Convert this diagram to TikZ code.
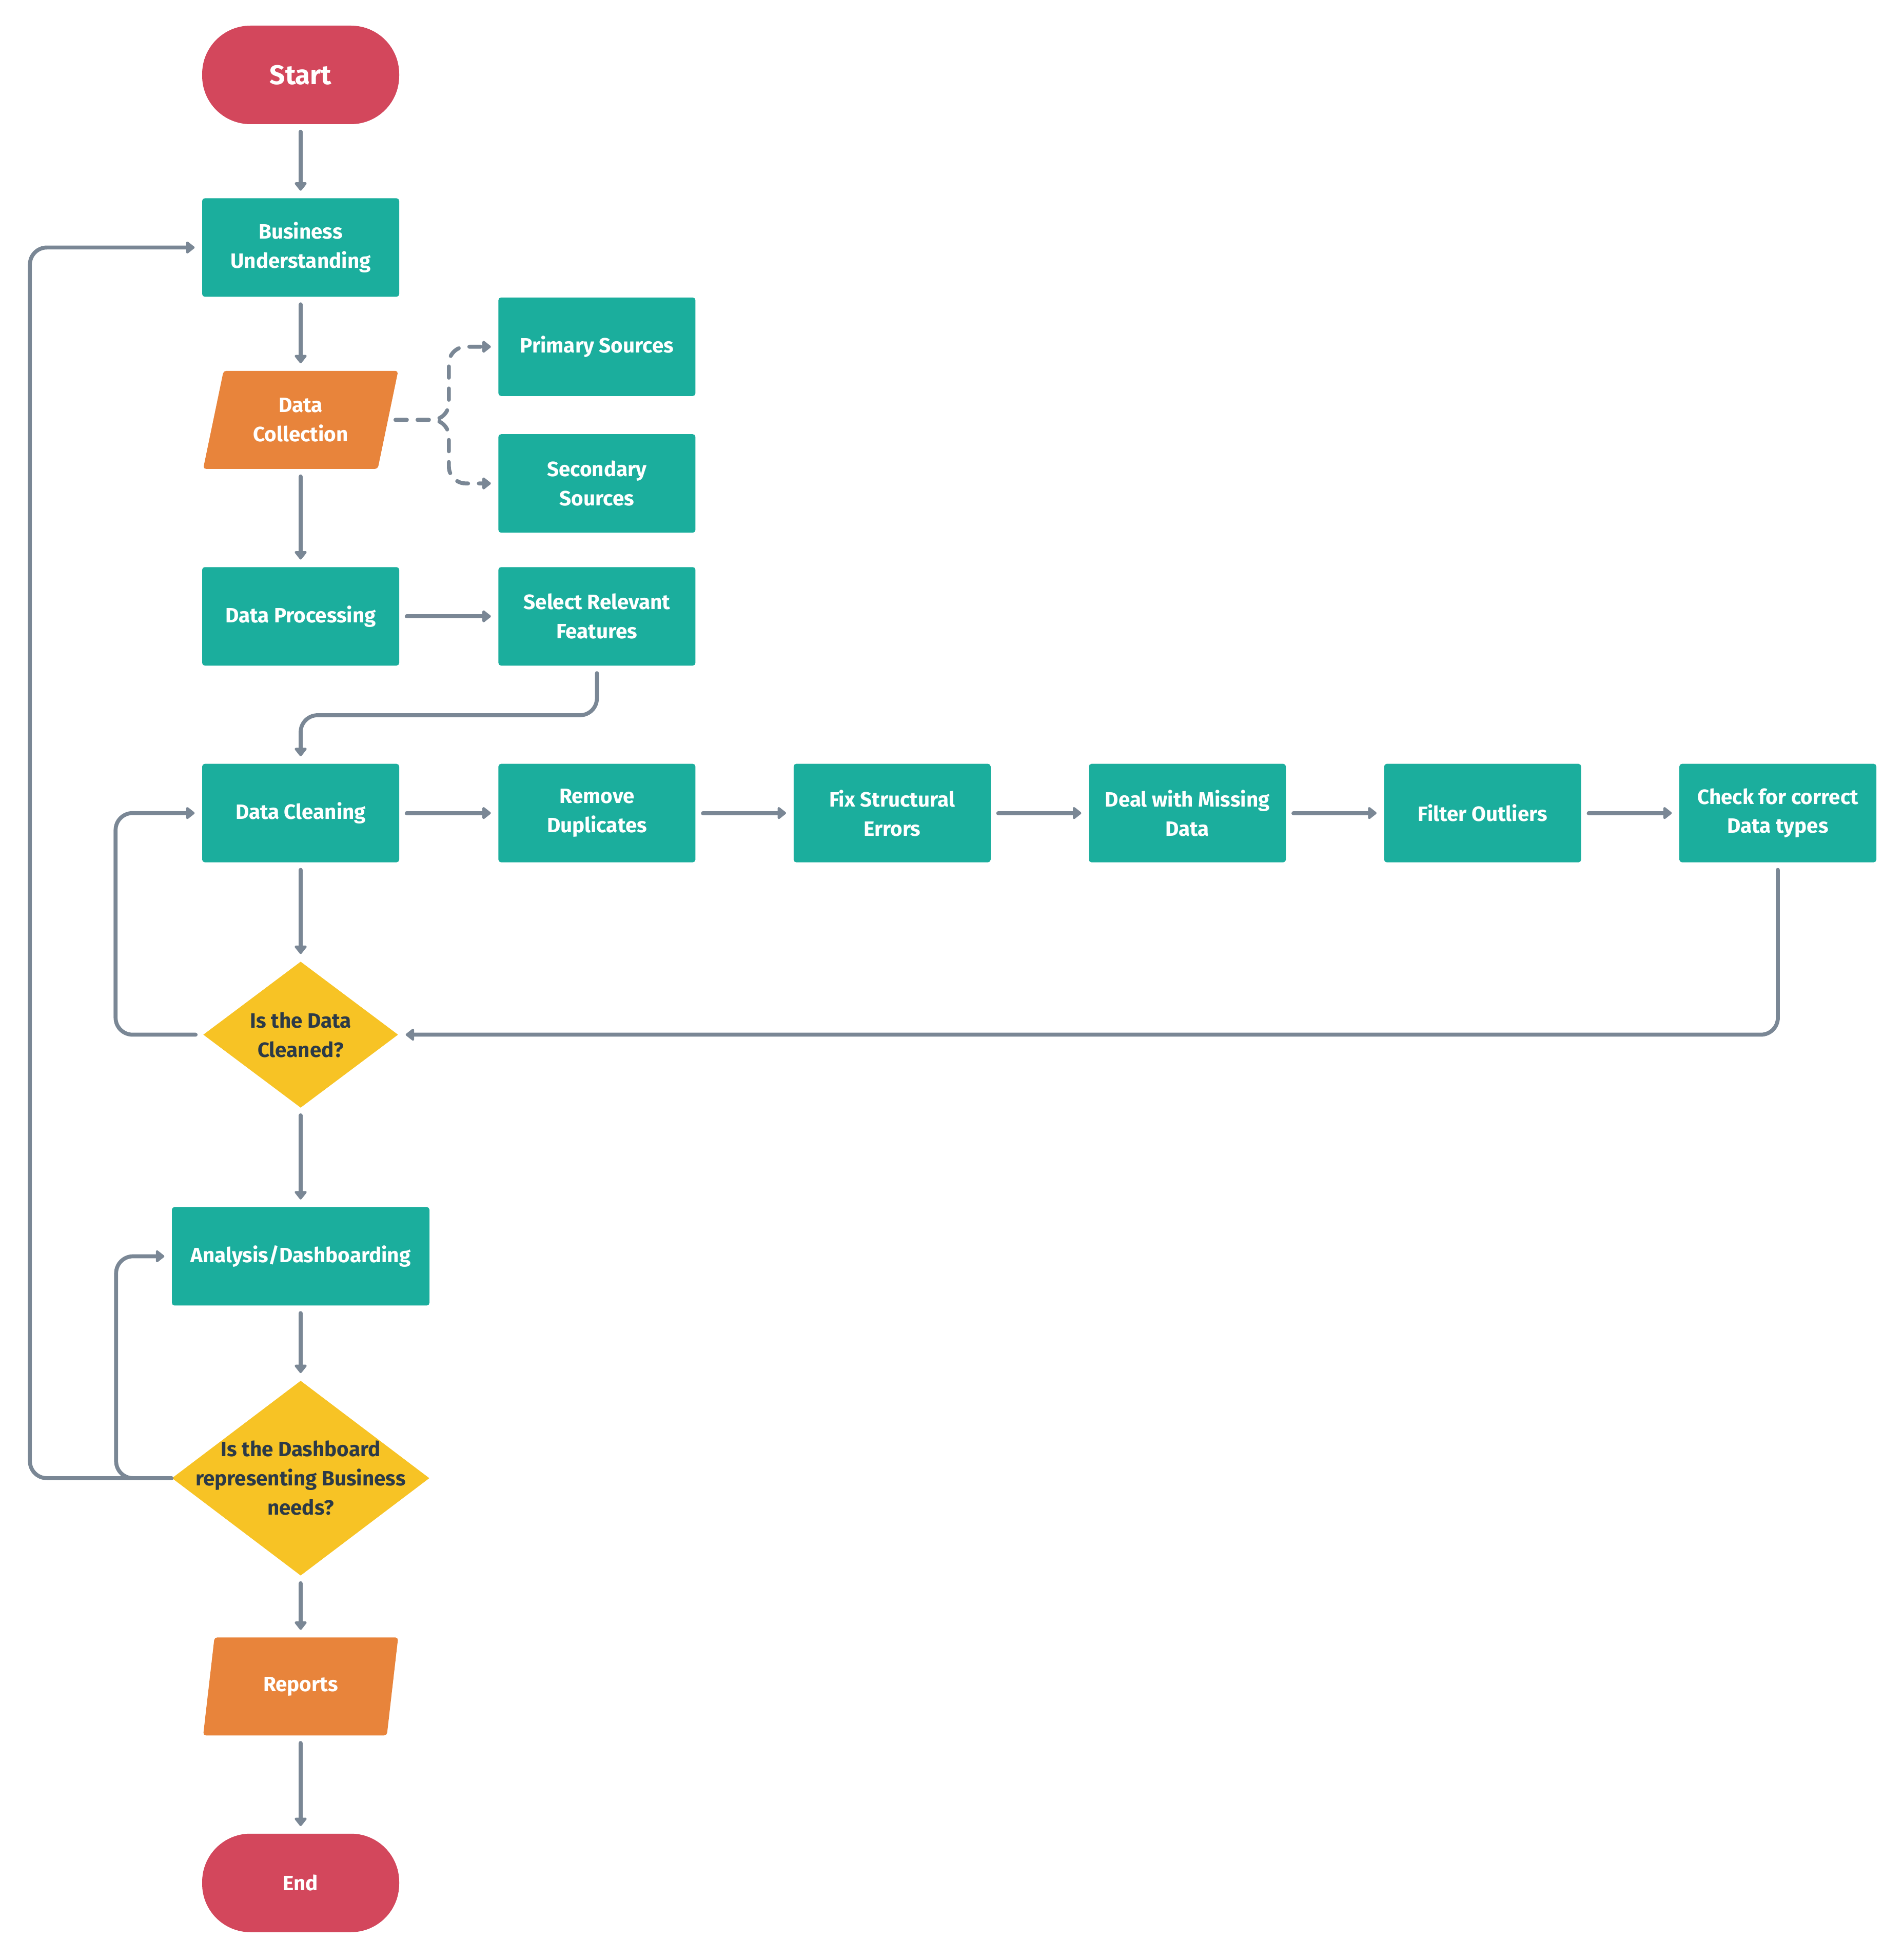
\documentclass[tikz,border=0pt]{standalone}
\usepackage{fontspec}
\setmainfont{Fira Sans}
\usetikzlibrary{shapes.geometric, arrows.meta, positioning}

\definecolor{startred}{HTML}{D3475C}
\definecolor{boxteal}{HTML}{1BAE9D}
\definecolor{iorange}{HTML}{E8843B}
\definecolor{decyellow}{HTML}{F7C325}
\definecolor{linegray}{HTML}{7A8795}
\definecolor{darktext}{HTML}{2C3A47}

\newcommand{\boxfont}{\fontsize{11.5pt}{16.2pt}\selectfont\bfseries}

\tikzstyle{startstop} = [rectangle, rounded corners=0.94cm, minimum width=3.84cm, minimum height=1.92cm, text centered, fill=startred, text=white, font=\boxfont]
\tikzstyle{process} = [rectangle, rounded corners=1.5pt, minimum width=3.84cm, minimum height=1.92cm, align=center, fill=boxteal, text=white, font=\boxfont]
\tikzstyle{io} = [trapezium, trapezium left angle=70, trapezium right angle=110, trapezium stretches body, minimum width=3.8cm, minimum height=1.91cm, align=center, fill=iorange, text=white, font=\boxfont, rounded corners=1.5pt]
\tikzstyle{decision} = [diamond, minimum width=3.8cm, minimum height=2.85cm, inner xsep=-2cm, inner ysep=-1cm, align=center, fill=decyellow, text=darktext, font=\boxfont]
\tikzstyle{arrow} = [line width=0.077cm, draw=linegray, line cap=round, -{Triangle[length=0.18cm, width=0.27cm, round]}, shorten <=0.14cm, shorten >=0.14cm]
\tikzstyle{dasharrow} = [arrow, dash pattern=on 0.22cm off 0.21cm]

\begin{document}
\begin{tikzpicture}[node distance = 1.9cm]

\useasboundingbox (0,0) rectangle (37.08,-38.20);

\node (start) [startstop, font=\fontsize{15pt}{18pt}\selectfont\bfseries] at (5.86,-1.46) {Start};
\node (bu) [process, below=1.43cm of start] {Business\\Understanding};
\node (dc) [io, below=1.43cm of bu] {Data\\Collection};
\node (primary) [process, below right=0cm and 1.92cm of bu] {Primary Sources};
\node (secondary) [process, below=0.73cm of primary] {Secondary\\Sources};
\node (dp) [process, below=1.9cm of dc] {Data Processing};
\node (select) [process, right=1.92cm of dp] {Select Relevant\\Features};

\node (dclean) [process, below=1.9cm of dp] {Data Cleaning};
\node (dup) [process, right=1.92cm of dclean] {Remove\\Duplicates};
\node (fix) [process, right=of dup] {Fix Structural\\Errors};
\node (missing) [process, right=of fix] {Deal with Missing\\Data};
\node (outliers) [process, right=of missing] {Filter Outliers};
\node (check) [process, right=of outliers] {Check for correct\\Data types};

\node (clean) [decision, below=1.92cm of dclean] {Is the Data\\Cleaned?};
\node (analysis) [process, minimum width=5.02cm, below=1.92cm of clean] {Analysis/Dashboarding};
\node (dash) [decision, minimum width=5.02cm, minimum height=3.8cm, below=1.45cm of analysis] {Is the Dashboard\\representing Business\\needs?};
\node (reports) [io, below=1.19cm of dash] {Reports};
\node (stop) [startstop, below=1.9cm of reports] {End};

\draw [arrow] (start) -- (bu);
\draw [arrow] (bu) -- (dc);
\draw [dasharrow, rounded corners=0.33cm] (dc.east) -- ++(1.18,0) |- (primary.west);
\draw [dasharrow, rounded corners=0.33cm] (dc.east) -- ++(1.18,0) |- (secondary.west);
\draw [arrow] (dc) -- (dp);
\draw [arrow] (dp) -- (select);
\draw [arrow, rounded corners=0.33cm] (select.south) -- ++(0,-0.96) -| (dclean.north);

\draw [arrow] (dclean) -- (dup);
\draw [arrow] (dup) -- (fix);
\draw [arrow] (fix) -- (missing);
\draw [arrow] (missing) -- (outliers);
\draw [arrow] (outliers) -- (check);
\draw [arrow, rounded corners=0.33cm] (check.south) |- (clean.east);

\draw [arrow] (dclean) -- (clean);
\draw [arrow, rounded corners=0.33cm] (clean.west) -- ++(-1.7,0) |- (dclean.west);
\draw [arrow] (clean) -- (analysis);
\draw [arrow] (analysis) -- (dash);
\draw [arrow, rounded corners=0.33cm, shorten <=0pt] (dash.west) -- ++(-1.08,0) |- (analysis.west);
\draw [arrow, rounded corners=0.33cm, shorten <=0pt] (dash.west) -- ++(-2.76,0) |- (bu.west);
\draw [arrow] (dash) -- (reports);
\draw [arrow] (reports) -- (stop);

\end{tikzpicture}
\end{document}
